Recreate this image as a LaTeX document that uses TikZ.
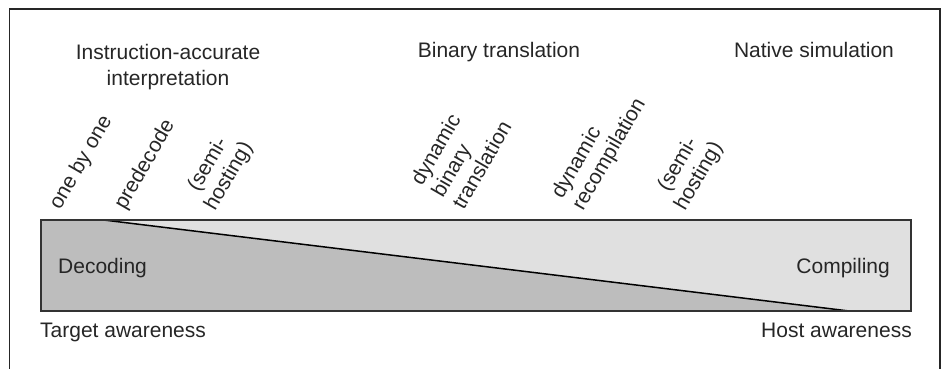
\documentclass[tikz,border=0pt]{standalone}
\usepackage{fontspec}
\setmainfont{Liberation Sans}
\begin{document}
\begin{tikzpicture}[x=1pt,y=1pt,
  lbl/.style={inner sep=0pt, font=\fontsize{21}{25.6}\selectfont, text=black!85},
  rot/.style={lbl, rotate=60, anchor=south west, align=left, font=\fontsize{21}{24}\selectfont},
  frameline/.style={line width=1.3pt, draw=black!85},
  outline/.style={line width=1.4pt, draw=black!80},
  diag/.style={line width=1.5pt, draw=black}]
\useasboundingbox (0,0) rectangle (945,369);
% frame
\coordinate (fbl) at (9.5,0);
\coordinate (ftl) at (9.5,360);
\coordinate (ftr) at (940,360);
\coordinate (fbr) at (940,0);
\draw[frameline] (fbl) -- (ftl) -- (ftr) -- (fbr);
% bar
\coordinate (rbl) at (41,58);
\coordinate (rtl) at (41,149);
\coordinate (rtr) at (911,149);
\coordinate (d1) at (103.7,149);
\coordinate (d2) at (849,58);
\fill[fill={rgb,255:red,224;green,224;blue,224}] (rbl) rectangle (rtr);
\fill[fill={rgb,255:red,189;green,189;blue,189}] (rbl) -- (rtl) -- (d1) -- (d2) -- cycle;
\draw[diag] (d1) -- (d2);
\draw[outline] (rbl) rectangle (rtr);
% headings
\node[lbl, anchor=north, align=center] (h1) at (168,324.6) {Instruction-accurate\\interpretation};
\node[lbl, anchor=base] (h2) at (499,311) {Binary translation};
\node[lbl, anchor=base] (h3) at (814,311) {Native simulation};
% inside bar
\node[lbl, anchor=base west] (dec) at (58,95) {Decoding};
\node[lbl, anchor=base east] (comp) at (890,95) {Compiling};
% below
\node[lbl, anchor=base west] (ta) at (40,31.3) {Target awareness};
\node[lbl, anchor=base east] (ha) at (912,31.3) {Host awareness};
% rotated labels
\node[rot] (r1) at (64,156) {one by one};
\node[rot] (r2) at (129,156) {predecode};
\node[rot, align=center] (r3) at (219,155) {(semi-\\hosting)};
\node[rot] (r4) at (464,158) {dynamic\\binary\\translation};
\node[rot] (r5) at (587,155) {dynamic\\recompilation};
\node[rot, align=center] (r6) at (689,155) {(semi-\\hosting)};
\end{tikzpicture}
\end{document}
